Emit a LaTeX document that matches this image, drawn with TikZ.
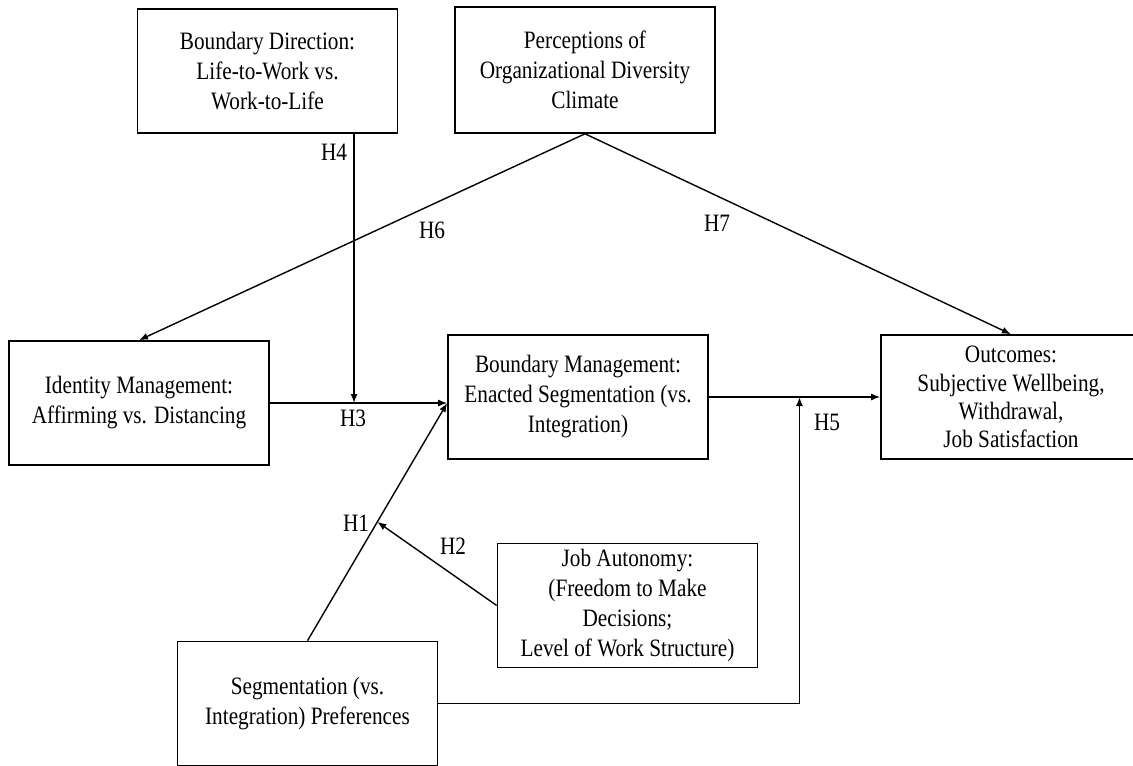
\documentclass[tikz,border=0pt]{standalone}
\usepackage{fontspec}
\setmainfont[FakeStretch=0.85]{Liberation Serif}
\usetikzlibrary{arrows.meta,calc}

\begin{document}
\begin{tikzpicture}[x=1pt, y=-1pt,
	every node/.style={font=\fontsize{25}{30}\selectfont},
	box/.style={draw, line width=1.6pt, minimum width=260pt, minimum height=124pt, inner sep=0pt, align=center},
	link/.style={line width=1.4pt, -{Latex[length=9pt,width=7pt]}}]
			%%%%% START %%%%%
			\useasboundingbox (0,0) rectangle (1133,766);
			
			\node[box] (dir) at (267.5, 71) {Boundary Direction:\\Life-to-Work vs.\\Work-to-Life};
			\node[box, minimum height=126pt] (clim) at (585, 70) {Perceptions of\\Organizational Diversity\\Climate};
			
			\node[box] (idm) at (139, 403) {Identity Management:\\Affirming vs. Distancing};
			\node[box] (bm) at (578, 397) {Boundary Management:\\Enacted Segmentation (vs.\\Integration)};
			\node[box, font=\fontsize{25}{28.3}\selectfont] (out) at (1011, 397) {Outcomes:\\Subjective Wellbeing,\\Withdrawal,\\Job Satisfaction};
			
			\node[box] (aut) at (627.5, 605.5) {Job Autonomy:\\(Freedom to Make\\Decisions;\\Level of Work Structure)};
			\node[box] (seg) at (307.5, 703.5) {Segmentation (vs.\\Integration) Preferences};
			
			\coordinate (bmin) at (bm.west |- idm.east);
			\coordinate (m3) at ($(idm.east)!0.475!(bmin)$);
			\coordinate (m1) at ($(seg.north)!0.5!(bmin)$);
			\coordinate (m5) at ($(bm.east)!0.529!(out.west)$);
			
			\draw[link] (idm.east) -- (bmin);
			\draw[link] (seg.north) -- (bmin);
			\draw[link] (bm.east) -- (out.west);
			\draw[link] (dir.south -| m3) -- (m3);
			\draw[link] (aut.west) -- (m1);
			\draw[link] (seg.east) -| (m5);
			\draw[link] (clim.south) -- (idm.north);
			\draw[link] (clim.south) -- (out.north);
			
			\node (hA) at (356, 523) {H1};
			\node (hB) at (453, 546) {H2};
			\node (hC) at (353, 418) {H3};
			\node (hD) at (334, 152) {H4};
			\node (hE) at (827, 422) {H5};
			\node (hF) at (432, 230) {H6};
			\node (hG) at (717, 223) {H7};
			%%%%% END %%%%%
\end{tikzpicture}
\end{document}
